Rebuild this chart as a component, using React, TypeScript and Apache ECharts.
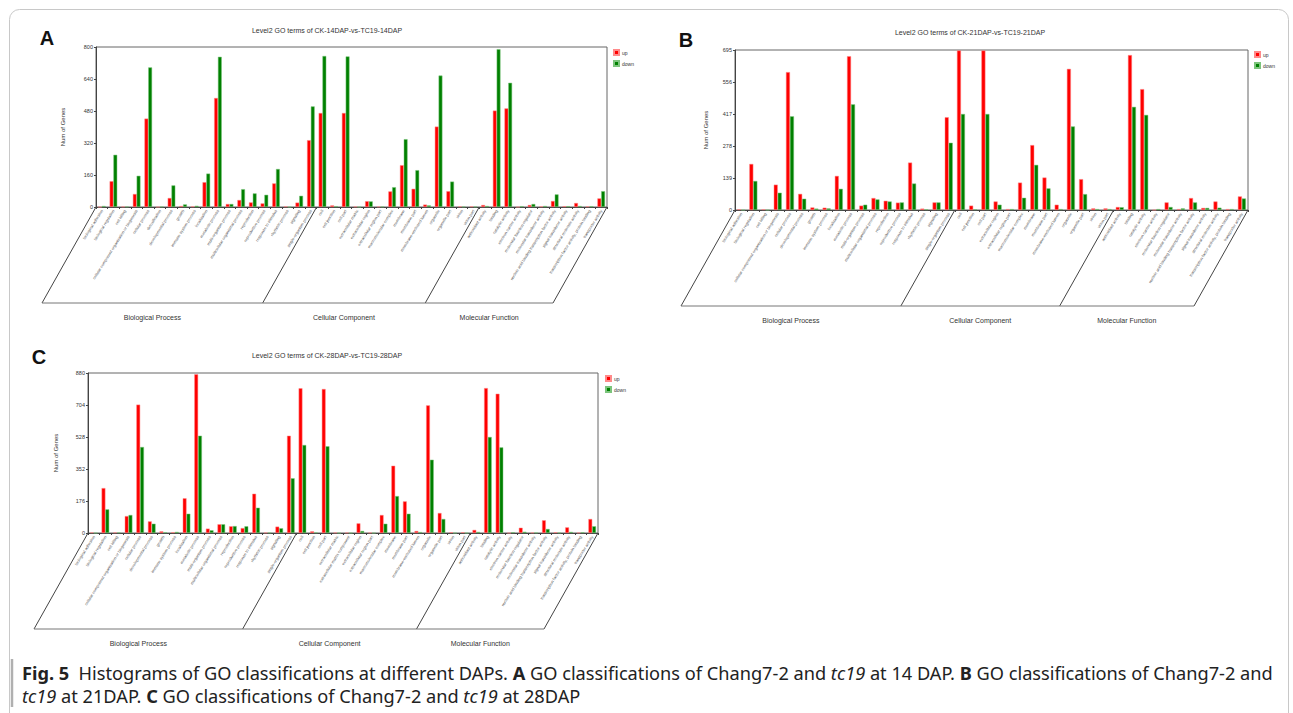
import React, { useEffect, useRef } from "react";
import * as echarts from "echarts";

// ---------- categories ----------
const bpA = [
  "biological adhesion", "biological regulation", "cell killing",
  "cellular component organization or biogenesis", "cellular process", "detoxification",
  "developmental process", "growth", "immune system process", "localization",
  "metabolic process", "multi-organism process", "multicellular organismal process",
  "reproduction", "reproductive process", "response to stimulus", "rhythmic process",
  "signaling", "single-organism process",
];
const bpBC = bpA.filter((c) => c !== "detoxification");
const ccA = [
  "cell", "cell junction", "cell part", "extracellular matrix", "extracellular region",
  "extracellular region part", "macromolecular complex", "membrane", "membrane part",
  "membrane-enclosed lumen", "organelle", "organelle part", "virion", "virion part",
];
const ccB = ccA.filter((c) => c !== "extracellular matrix");
const ccC = [
  "cell", "cell junction", "cell part", "extracellular matrix", "extracellular matrix component",
  "extracellular region", "extracellular region part", "macromolecular complex", "membrane",
  "membrane part", "membrane-enclosed lumen", "organelle", "organelle part", "virion", "virion part",
];
const mf = [
  "antioxidant activity", "binding", "catalytic activity", "electron carrier activity",
  "molecular function regulator", "molecular transducer activity",
  "nucleic acid binding transcription factor activity", "signal transducer activity",
  "structural molecule activity", "transcription factor activity, protein binding",
  "transporter activity",
];
const groupNames = ["Biological Process", "Cellular Component", "Molecular Function"];

const catsA = [...bpA, ...ccA, ...mf];
const catsB = [...bpBC, ...ccB, ...mf];
const catsC = [...bpBC, ...ccC, ...mf];

// ---------- values ----------
const upA = [
  0, 129, 2, 65, 442, 0, 45, 5, 3, 124, 545, 15, 35, 23, 18, 118, 3, 22, 334,
  470, 8, 470, 2, 29, 2, 78, 209, 91, 12, 402, 79, 3, 3,
  10, 482, 493, 0, 10, 3, 30, 4, 20, 3, 43,
];
const downA = [
  5, 261, 2, 156, 698, 2, 108, 13, 6, 167, 751, 15, 89, 68, 61, 190, 0, 56, 503,
  755, 4, 753, 0, 28, 2, 99, 339, 184, 8, 657, 127, 2, 2,
  5, 789, 621, 4, 15, 5, 63, 4, 5, 4, 79,
];
const upB = [
  3, 200, 3, 110, 599, 70, 11, 10, 148, 668, 19, 52, 40, 32, 206, 6, 33, 403,
  693, 19, 693, 37, 4, 119, 282, 141, 23, 613, 134, 7, 7,
  13, 673, 525, 0, 33, 4, 52, 9, 37, 4, 59,
];
const downB = [
  0, 126, 0, 75, 407, 49, 6, 7, 92, 459, 23, 46, 37, 33, 115, 3, 33, 292,
  417, 3, 417, 23, 4, 53, 196, 94, 4, 363, 69, 4, 4,
  12, 448, 413, 4, 13, 7, 33, 9, 10, 4, 50,
];
const upC = [
  3, 247, 3, 93, 706, 64, 9, 4, 191, 873, 24, 48, 37, 27, 216, 2, 35, 535,
  796, 9, 792, 2, 2, 53, 2, 99, 370, 174, 11, 702, 110, 4, 4,
  17, 797, 766, 0, 29, 2, 70, 4, 31, 2, 77,
];
const downC = [
  0, 130, 3, 99, 473, 51, 4, 6, 106, 535, 15, 48, 38, 37, 139, 2, 26, 301,
  484, 3, 477, 0, 0, 11, 0, 51, 203, 106, 5, 403, 77, 0, 0,
  6, 528, 471, 4, 7, 2, 22, 2, 6, 4, 37,
];

// y-axis tick settings
const yMaxes = [800, 695, 880];
const ySteps = [160, 139, 176];
const titles = [
  "Level2 GO terms of CK-14DAP-vs-TC19-14DAP",
  "Level2 GO terms of CK-21DAP-vs-TC19-21DAP",
  "Level2 GO terms of CK-28DAP-vs-TC19-28DAP",
];
const letters = ["A", "B", "C"];

const panels = [
  { cats: catsA, up: upA, down: downA, groups: [bpA.length, ccA.length, mf.length],
    grid: { left: 96, top: 47, width: 511, height: 160 }, legend: { left: 613, top: 49 },
    letter: [47, 38], titlePos: [327, 30], nameGap: 30, barW: 3.8 },
  { cats: catsB, up: upB, down: downB, groups: [bpBC.length, ccB.length, mf.length],
    grid: { left: 735, top: 50, width: 513, height: 160 }, legend: { left: 1254, top: 51 },
    letter: [686, 40], titlePos: [970, 32], nameGap: 26, barW: 4 },
  { cats: catsC, up: upC, down: downC, groups: [bpBC.length, ccC.length, mf.length],
    grid: { left: 88, top: 373, width: 510, height: 160 }, legend: { left: 605, top: 375 },
    letter: [39, 357], titlePos: [327, 355], nameGap: 29, barW: 3.8 },
];

const FONT = "Liberation Sans, Arial, sans-serif";

export default function App() {
  const ref = useRef<HTMLDivElement>(null);
  useEffect(() => {
    if (!ref.current) return;
    const chart = echarts.init(ref.current, null, { renderer: "svg" });
    const grids: any[] = [];
    const xAxes: any[] = [];
    const yAxes: any[] = [];
    const series: any[] = [];
    const legends: any[] = [];
    const graphics: any[] = [];

    panels.forEach((p, i) => {
      grids.push({ ...p.grid, show: true, borderColor: "#666", borderWidth: 1, backgroundColor: "transparent" });
      xAxes.push({
        type: "category", gridIndex: i, data: p.cats,
        axisLine: { lineStyle: { color: "#444", width: 1 } },
        axisTick: { show: true, length: 2, lineStyle: { color: "#444" } },
        axisLabel: { interval: 0, rotate: 58, fontSize: 4, color: "#555", margin: 3, fontFamily: FONT },
      });
      yAxes.push({
        type: "value", gridIndex: i, min: 0, max: yMaxes[i], interval: ySteps[i],
        name: "Num of Genes", nameLocation: "middle", nameGap: p.nameGap, nameRotate: 90,
        nameTextStyle: { fontSize: 6, color: "#333", fontFamily: FONT },
        axisLine: { show: true, lineStyle: { color: "#444", width: 1 } },
        axisTick: { show: true, length: 2, lineStyle: { color: "#444" } },
        axisLabel: { fontSize: 5.5, color: "#333", margin: 3, fontFamily: FONT },
        splitLine: { show: false },
      });
      series.push({
        name: "up", type: "bar", xAxisIndex: i, yAxisIndex: i, data: p.up,
        barWidth: p.barW, barGap: "0%",
        itemStyle: { color: "#ff0000", borderColor: "#ff8a8a", borderWidth: 0.5 },
      });
      series.push({
        name: "down", type: "bar", xAxisIndex: i, yAxisIndex: i, data: p.down,
        barWidth: p.barW, barGap: "0%",
        itemStyle: { color: "#008000", borderColor: "#7cc47c", borderWidth: 0.5 },
      });
      legends.push({
        data: ["up", "down"], orient: "vertical", left: p.legend.left, top: p.legend.top,
        itemWidth: 5, itemHeight: 5, itemGap: 4, padding: 0, icon: "rect",
        textStyle: { fontSize: 5, color: "#333", fontFamily: FONT, padding: [0, 0, 0, -2] },
        selectedMode: false,
      });

      // panel letter and title
      graphics.push({
        type: "text", silent: true,
        style: { text: letters[i], x: p.letter[0], y: p.letter[1], align: "center", verticalAlign: "middle",
          textAlign: "center", textVerticalAlign: "middle",
          fontSize: 20, fontWeight: "bold", fontFamily: FONT, fill: "#111" },
      });
      graphics.push({
        type: "text", silent: true,
        style: { text: titles[i], x: p.titlePos[0], y: p.titlePos[1], align: "center", verticalAlign: "middle",
          textAlign: "center", textVerticalAlign: "middle",
          fontSize: 7, fontFamily: FONT, fill: "#333" },
      });

      // slanted group separators
      const N = p.cats.length;
      const y0 = p.grid.top + p.grid.height;
      const dx = -54, dy = 96;
      const bounds = [0, p.groups[0], p.groups[0] + p.groups[1], N];
      const xs = bounds.map((b) => p.grid.left + (b * p.grid.width) / N);
      xs.forEach((x) => {
        graphics.push({ type: "line", silent: true,
          shape: { x1: x, y1: y0, x2: x + dx, y2: y0 + dy },
          style: { stroke: "#444", lineWidth: 1 } });
      });
      graphics.push({ type: "line", silent: true,
        shape: { x1: xs[0] + dx, y1: y0 + dy, x2: xs[3] + dx, y2: y0 + dy },
        style: { stroke: "#777", lineWidth: 1 } });
      for (let g = 0; g < 3; g++) {
        graphics.push({
          type: "text", silent: true,
          style: { text: groupNames[g], x: (xs[g] + xs[g + 1]) / 2 + dx, y: y0 + dy + 14,
            align: "center", verticalAlign: "middle", textAlign: "center", textVerticalAlign: "middle",
            fontSize: 7, fontFamily: FONT, fill: "#333" },
        });
      }
    });

    // figure frame
    graphics.push({ type: "rect", silent: true, shape: { x: 9.5, y: 9.5, width: 1279, height: 760, r: 10 },
      style: { fill: "none", stroke: "#c8c8c8", lineWidth: 1 } });
    graphics.push({ type: "line", silent: true, shape: { x1: 12, y1: 659, x2: 12, y2: 707 },
      style: { stroke: "#b0b0b0", lineWidth: 2.5 } });

    // caption
    const capFont = "Noto Sans, Open Sans, sans-serif";
    const capSize = 18.2;
    const capLH = 23;
    graphics.push({
      type: "text", silent: true,
      style: {
        x: 22, y: 661,
        text:
          "{b|Fig. 5}  Histograms of GO classifications at different DAPs. {b|A} GO classifications of Chang7-2 and {i|tc19} at 14 DAP. {b|B} GO classifications of Chang7-2 and\n" +
          "{i|tc19} at 21DAP. {b|C} GO classifications of Chang7-2 and {i|tc19} at 28DAP",
        fontSize: capSize, fontFamily: capFont, fill: "#222", lineHeight: capLH,
        rich: {
          b: { fontWeight: "bold", fontSize: capSize, fontFamily: capFont, fill: "#222", lineHeight: capLH },
          i: { fontStyle: "italic", fontSize: capSize, fontFamily: capFont, fill: "#222", lineHeight: capLH },
        },
      },
    });

    chart.setOption({
      animation: false,
      backgroundColor: "#ffffff",
      grid: grids, xAxis: xAxes, yAxis: yAxes, series, legend: legends, graphic: graphics,
    });
    return () => chart.dispose();
  }, []);
  return (
    <div ref={ref} style={{ position: "absolute", left: 0, top: 0, width: 1293, height: 713 }} />
  );
}
